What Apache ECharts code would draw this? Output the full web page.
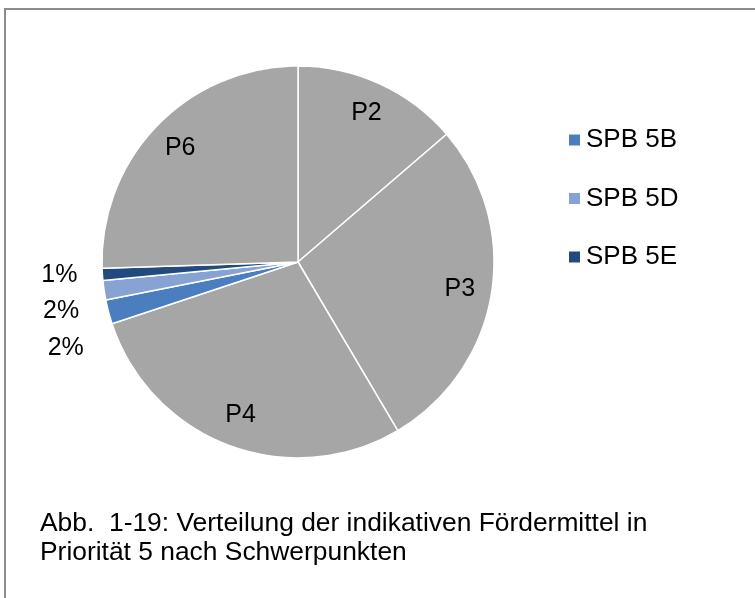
<!DOCTYPE html>
<html>
<head>
<meta charset="utf-8">
<script src="https://cdn.jsdelivr.net/npm/echarts@6/dist/echarts.min.js"></script>
<style>html,body{margin:0;padding:0;background:#fff}#chart{width:755px;height:598px}</style>
</head>
<body>
<div id="chart"></div>
<script>
// Data
const categories = ['P2', 'P3', 'P4', 'SPB 5B', 'SPB 5D', 'SPB 5E', 'P6'];
const values = [13.7, 27.8, 28.4, 2.0, 1.6, 1.0, 25.5];
const legendNames = ['SPB 5B', 'SPB 5D', 'SPB 5E'];
const caption = 'Abb.  1-19: Verteilung der indikativen Fördermittel in\nPriorität 5 nach Schwerpunkten';

const colorMap = {
  'P2': '#A6A6A6', 'P3': '#A6A6A6', 'P4': '#A6A6A6', 'P6': '#A6A6A6',
  'SPB 5B': '#4A7EBF', 'SPB 5D': '#86A3D4', 'SPB 5E': '#234A7F'
};
const FONT = "'Liberation Sans', Arial, sans-serif";
const FS = 25;
const isSPB = n => legendNames.indexOf(n) >= 0;

const mainData = categories.map((c, i) => ({
  name: c, value: values[i],
  itemStyle: { color: colorMap[c] },
  label: { show: isSPB(c) }
}));
const labelData = categories.map((c, i) => ({
  name: c, value: values[i],
  label: { show: !isSPB(c) }
}));

const chart = echarts.init(document.getElementById('chart'));
chart.setOption({
  animation: false,
  backgroundColor: '#fff',
  textStyle: { fontFamily: FONT },
  title: {
    text: caption, left: 40, top: 509, padding: 0,
    textStyle: { fontFamily: FONT, fontSize: 26.4, fontWeight: 'normal', color: '#000', lineHeight: 29 }
  },
  legend: {
    data: legendNames, orient: 'vertical', left: 567, top: 127, padding: 0,
    itemWidth: 13, itemHeight: 13, itemGap: 32.5, icon: 'rect',
    textStyle: { fontFamily: FONT, fontSize: 26, color: '#000', lineHeight: 26 }
  },
  graphic: [{
    type: 'rect', silent: true, z: -1,
    shape: { x: 5, y: 9, width: 800, height: 700 },
    style: { fill: 'none', stroke: '#8c8c8c', lineWidth: 2 }
  }],
  series: [{
    type: 'pie', center: [298, 262], radius: 196,
    startAngle: 90, clockwise: true,
    data: mainData,
    itemStyle: { borderColor: '#fff', borderWidth: 1.5 },
    emphasis: { disabled: true },
    label: {
      position: 'outside', alignTo: 'labelLine',
      fontFamily: FONT, fontSize: FS, color: '#000', lineHeight: 34.5,
      formatter: p => Math.round(p.percent) + '%'
    },
    labelLine: { show: false, length: 10, length2: 10 }
  }, {
    type: 'pie', center: [298, 262], radius: [126, 196],
    startAngle: 90, clockwise: true, silent: true, legendHoverLink: false,
    data: labelData,
    itemStyle: { color: 'rgba(0,0,0,0)', borderWidth: 0 },
    emphasis: { disabled: true },
    label: { position: 'inside', fontFamily: FONT, fontSize: FS, color: '#000', formatter: '{b}', padding: [8, 0, 0, 0] },
    labelLine: { show: false }
  }]
});
</script>
</body>
</html>
